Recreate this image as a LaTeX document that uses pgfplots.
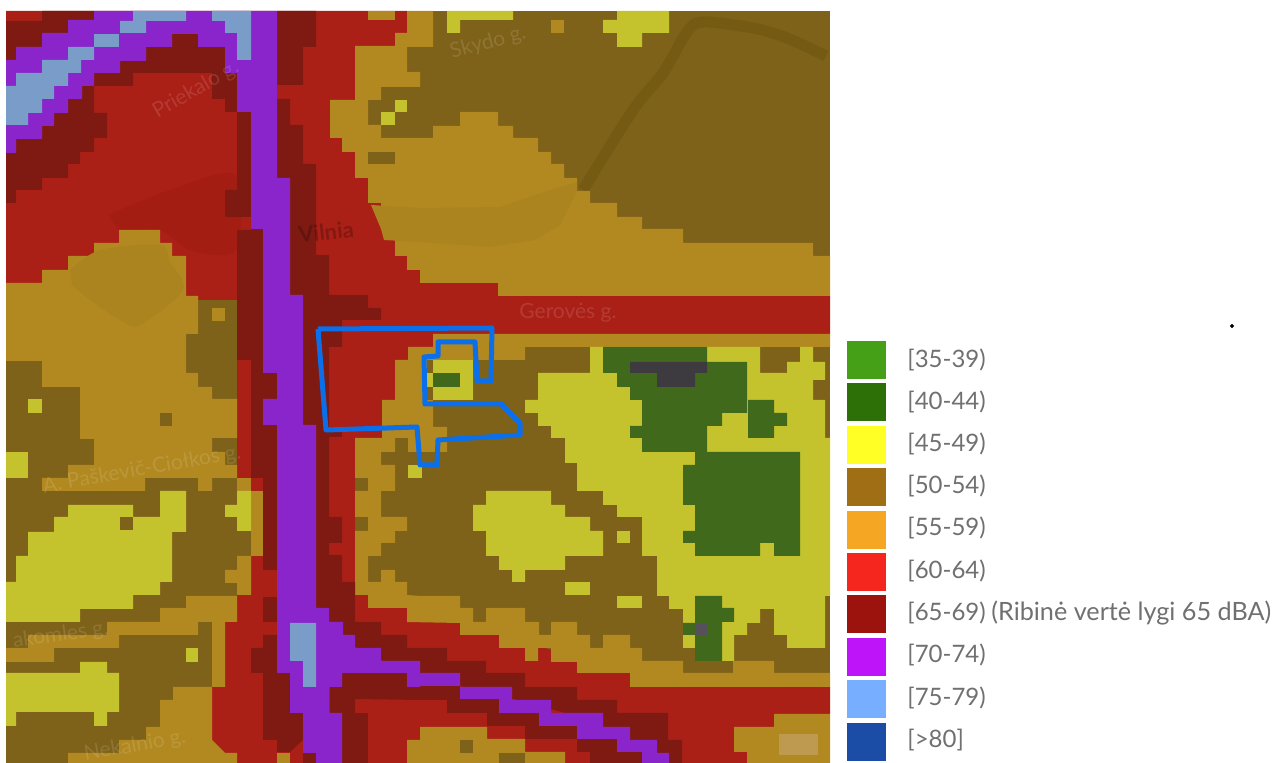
\documentclass[border=0pt]{standalone}
\usepackage{fontspec}
\setmainfont{Lato}
\usepackage{pgfplots}
\pgfplotsset{compat=1.18}

\definecolor{cbrown}{HTML}{7F6219}
\definecolor{criver}{HTML}{755A14}
\definecolor{corange}{HTML}{B28920}
\definecolor{corangeb}{HTML}{AC841F}
\definecolor{cattr}{HTML}{BE9A50}
\definecolor{cyellow}{HTML}{C4C32E}
\definecolor{cred}{HTML}{AA2017}
\definecolor{credb}{HTML}{A41D12}
\definecolor{cdark}{HTML}{7F1A12}
\definecolor{cpurple}{HTML}{8A24CB}
\definecolor{cblue}{HTML}{7A9CC8}
\definecolor{cgreen}{HTML}{41691C}
\definecolor{cgray}{HTML}{3D3A40}
\definecolor{cgrayb}{HTML}{55505A}
\definecolor{cline}{HTML}{0A6FE8}
\definecolor{ctext}{HTML}{707070}
\definecolor{la}{HTML}{45A018}
\definecolor{lb}{HTML}{2E7008}
\definecolor{lc}{HTML}{FFFF26}
\definecolor{ld}{HTML}{A06E14}
\definecolor{le}{HTML}{F5A623}
\definecolor{lf}{HTML}{F5261E}
\definecolor{lg}{HTML}{9C130E}
\definecolor{lh}{HTML}{BE14FA}
\definecolor{li}{HTML}{78AEFF}
\definecolor{lj}{HTML}{1B4CA6}

\tikzset{
  legtext/.style={anchor=west,text=ctext,inner sep=0pt,font=\fontsize{12}{14}\selectfont},
  maplabel/.style={text=white,text opacity=0.12,font=\fontsize{10.5}{12}\selectfont}}

\begin{document}
\begin{tikzpicture}
\begin{axis}[
  scale only axis, width=637pt, height=381.5pt,
  xmin=0, xmax=1274, ymin=0, ymax=763,
  y dir=reverse, hide axis, clip=true]

% page and base layer (50-54)
\addplot[fill=white,draw=none] coordinates {(0,0) (1274,0) (1274,763) (0,763)};
\addplot[fill=cbrown,draw=none] coordinates {(6,11) (830,11) (830,763) (6,763)};
% old river bed in the brown part
\addplot[draw=criver,line width=5.5pt,smooth] coordinates {(583,190) (633,110) (663,73) (687,32) (703,22) (753,28) (787,38) (826,56)};

% 60-64
\addplot[fill=cred,draw=none] coordinates {(6,11) (407,11) (407,33) (395,33) (395,46) (355,46) (355,100) (330,100) (330,138) (342,138) (342,152) (355,152) (355,178) (368,178) (368,203) (381,203) (381,229) (395,229) (395,256) (407,256) (407,270) (420,270) (420,283) (498,283) (498,296) (830,296) (830,334) (433,334) (433,347) (408,347) (408,360) (395,360) (395,400) (382,400) (382,438) (355,438) (355,763) (212,763) (212,687) (225,687) (225,622) (237,622) (237,595) (251,595) (251,478) (237,478) (237,300) (186,300) (6,300)};
\addplot[fill=cred,draw=none] coordinates {(355,595) (368,595) (407,608) (460,623) (630,673) (830,687) (830,714) (774,714) (774,727) (734,727) (734,752) (747,752) (747,763) (355,763)};
\addplot[fill=credb,draw=none,smooth] coordinates {(108,215) (170,190) (236,175) (236,250) (190,250) (160,230) (120,232)};

% 55-59
\addplot[fill=corange,draw=none] coordinates {(368,11) (395,11) (395,20) (368,20)};
\addplot[fill=corange,draw=none] coordinates {(407,11) (433,11) (433,47) (407,47) (407,72) (420,72) (420,87) (381,87) (381,100) (368,100) (368,125) (381,125) (381,138) (433,138) (433,126) (460,126) (460,112) (498,112) (498,126) (513,126) (513,138) (538,138) (538,152) (551,152) (551,164) (564,164) (564,178) (577,178) (577,191) (590,191) (590,203) (617,203) (617,217) (642,217) (642,229) (683,229) (683,243) (813,243) (813,256) (830,256) (830,296) (498,296) (498,283) (420,283) (420,270) (407,270) (407,256) (395,256) (395,229) (381,229) (381,203) (368,203) (368,178) (355,178) (355,152) (342,152) (342,138) (330,138) (330,100) (355,100) (355,46) (395,46) (395,33) (407,33)};
\addplot[fill=corangeb,draw=none] coordinates {(371,205) (420,208) (500,207) (550,190) (577,182) (577,191) (560,225) (535,240) (490,247) (420,242) (384,240) (381,229)};
\addplot[fill=corange,draw=none] coordinates {(6,283) (42,283) (42,270) (68,270) (68,256) (94,256) (94,243) (119,243) (119,230) (160,230) (160,243) (172,243) (172,256) (186,256) (186,296) (198,296) (198,334) (186,334) (186,373) (198,373) (198,387) (212,387) (212,399) (237,399) (237,438) (212,438) (212,452) (225,452) (225,465) (237,465) (237,478) (212,478) (212,491) (198,491) (198,478) (145,478) (145,491) (42,491) (42,478) (68,478) (68,465) (94,465) (94,439) (80,439) (80,387) (42,387) (42,361) (6,361)};
\addplot[fill=corangeb,draw=none,smooth] coordinates {(70,270) (100,250) (160,245) (170,262) (183,290) (140,325) (120,320) (90,300) (72,285)};
\addplot[fill=corange,draw=none] coordinates {(212,308) (225,308) (225,321) (212,321)};
\addplot[fill=corange,draw=none] coordinates {(237,478) (251,478) (251,491) (237,491)};
\addplot[fill=corange,draw=none] coordinates {(251,491) (263,491) (263,556) (251,556)};
\addplot[fill=corange,draw=none] coordinates {(237,556) (251,556) (251,595) (237,595) (237,583) (225,583) (225,570) (237,570)};
\addplot[fill=corange,draw=none] coordinates {(237,596) (186,596) (186,608) (160,608) (160,622) (107,622) (107,635) (28,635) (28,648) (6,648) (6,662) (54,662) (54,648) (119,648) (119,635) (198,635) (198,622) (212,622) (212,687) (225,687) (225,622) (237,622)};
\addplot[fill=corange,draw=none] coordinates {(212,687) (173,687) (173,700) (160,700) (160,727) (146,727) (146,740) (119,740) (119,753) (68,753) (68,763) (237,763) (237,753) (225,753) (212,740)};
\addplot[fill=corange,draw=none] coordinates {(277,753) (290,753) (290,763) (277,763)};
\addplot[fill=corange,draw=none] coordinates {(433,334) (830,334) (830,347) (525,347) (525,360) (473,360) (473,400) (433,400) (433,427) (447,427) (447,452) (422,452) (408,452) (408,438) (395,438) (395,452) (381,452) (381,465) (395,465) (395,491) (381,491) (381,517) (407,517) (407,531) (395,531) (395,543) (381,543) (381,556) (368,556) (368,582) (381,582) (381,570) (395,570) (395,582) (407,582) (407,595) (420,596) (460,596) (460,608) (473,608) (473,622) (486,622) (486,608) (525,608) (525,622) (539,622) (539,635) (551,635) (551,622) (577,622) (577,635) (590,635) (590,648) (603,648) (603,635) (630,635) (630,648) (642,648) (642,661) (683,661) (683,673) (733,673) (733,661) (774,661) (774,673) (830,673) (830,687) (630,687) (630,673) (577,673) (577,662) (551,662) (551,648) (538,648) (538,661) (525,661) (525,648) (499,648) (499,635) (460,635) (460,623) (407,622) (407,608) (368,608) (368,595) (355,595) (355,531) (368,531) (368,517) (355,517) (355,491) (368,491) (368,478) (355,478) (355,438) (382,438) (382,400) (395,400) (395,360) (408,360) (408,347) (433,347)};
\addplot[fill=corange,draw=none] coordinates {(407,740) (420,740) (420,727) (487,727) (487,739) (525,739) (525,752) (565,752) (565,763) (407,763)};
\addplot[fill=corange,draw=none] coordinates {(830,714) (774,714) (774,727) (734,727) (734,752) (747,752) (747,763) (830,763)};
\addplot[fill=corange,draw=none] coordinates {(551,20) (564,20) (564,33) (551,33)};
\addplot[fill=cattr,draw=none] coordinates {(779,734) (818,734) (818,755) (779,755)};

% brown patches back on top
\addplot[fill=cbrown,draw=none] coordinates {(368,152) (395,152) (395,164) (368,164)};
\addplot[fill=cbrown,draw=none] coordinates {(160,413) (172,413) (172,426) (160,426)};
\addplot[fill=cbrown,draw=none] coordinates {(427,360) (433,360) (433,373) (427,373)};
\addplot[fill=cbrown,draw=none] coordinates {(427,387) (433,387) (433,400) (427,400)};
\addplot[fill=cbrown,draw=none] coordinates {(460,740) (473,740) (473,753) (460,753)};
\addplot[fill=cbrown,draw=none] coordinates {(499,753) (525,753) (525,763) (499,763)};

% 45-49
\addplot[fill=cyellow,draw=none] coordinates {(447,11) (513,11) (513,20) (460,20) (460,33) (447,33)};
\addplot[fill=cyellow,draw=none] coordinates {(617,11) (669,11) (669,33) (642,33) (642,47) (617,47) (617,33) (603,33) (603,20) (617,20)};
\addplot[fill=cyellow,draw=none] coordinates {(395,100) (407,100) (407,112) (395,112)};
\addplot[fill=cyellow,draw=none] coordinates {(381,112) (395,112) (395,125) (381,125)};
\addplot[fill=cyellow,draw=none] coordinates {(28,399) (42,399) (42,413) (28,413)};
\addplot[fill=cyellow,draw=none] coordinates {(6,452) (28,452) (28,478) (6,478)};
\addplot[fill=cyellow,draw=none] coordinates {(6,582) (16,582) (16,556) (28,556) (28,532) (54,532) (54,517) (68,517) (68,505) (133,505) (133,517) (160,517) (160,491) (186,491) (186,532) (172,532) (172,582) (160,582) (160,595) (133,595) (133,609) (80,609) (80,622) (6,622)};
\addplot[fill=cbrown,draw=none] coordinates {(120,517) (133,517) (133,530) (120,530)};
\addplot[fill=cyellow,draw=none] coordinates {(225,505) (237,505) (237,491) (251,491) (251,531) (237,531) (237,517) (225,517)};
\addplot[fill=cyellow,draw=none] coordinates {(6,673) (80,673) (80,662) (107,662) (107,673) (119,673) (119,712) (107,712) (107,726) (94,726) (94,712) (16,712) (16,726) (6,726)};
\addplot[fill=cyellow,draw=none] coordinates {(186,648) (198,648) (198,662) (186,662)};
\addplot[fill=cyellow,draw=none] coordinates {(433,360) (473,360) (473,400) (433,400)};
\addplot[fill=cyellow,draw=none] coordinates {(427,373) (433,373) (433,387) (427,387)};
\addplot[fill=cyellow,draw=none] coordinates {(408,465) (422,465) (422,478) (408,478)};
\addplot[fill=cyellow,draw=none] coordinates {(538,373) (590,373) (590,347) (603,347) (707,347) (760,347) (760,373) (787,373) (787,362) (800,362) (800,347) (813,347) (813,362) (825,362) (825,380) (813,380) (813,400) (825,400) (825,438) (830,438) (830,596) (825,596) (825,648) (787,648) (787,635) (774,635) (774,609) (760,609) (760,623) (747,623) (747,635) (734,635) (734,661) (695,661) (695,648) (683,648) (683,609) (669,609) (669,596) (657,596) (657,556) (642,556) (642,517) (617,517) (617,505) (603,505) (603,491) (577,491) (577,463) (565,463) (565,438) (551,438) (551,426) (538,426) (538,413) (525,413) (525,400) (538,400)};
\addplot[fill=cyellow,draw=none] coordinates {(486,491) (551,491) (551,505) (565,505) (565,517) (590,517) (590,531) (603,531) (603,556) (565,556) (565,570) (525,570) (525,582) (512,582) (512,570) (499,570) (499,556) (486,556) (486,531) (473,531) (473,505) (486,505)};
\addplot[fill=cyellow,draw=none] coordinates {(617,531) (630,531) (630,543) (617,543)};
\addplot[fill=cyellow,draw=none] coordinates {(565,582) (590,582) (590,595) (565,595)};
\addplot[fill=cyellow,draw=none] coordinates {(617,596) (642,596) (642,608) (617,608)};

% 40-44
\addplot[fill=cgreen,draw=none] coordinates {(603,347) (707,347) (707,362) (747,362) (747,413) (722,413) (722,426) (707,426) (707,452) (642,452) (642,438) (630,438) (630,426) (642,426) (642,400) (630,400) (630,387) (617,387) (617,373) (603,373)};
\addplot[fill=cgreen,draw=none] coordinates {(683,465) (695,465) (695,452) (800,452) (800,556) (774,556) (774,543) (760,543) (760,556) (695,556) (695,543) (683,543) (683,531) (695,531) (695,505) (683,505)};
\addplot[fill=cgreen,draw=none] coordinates {(748,400) (774,400) (774,413) (787,413) (787,426) (774,426) (774,438) (748,438)};
\addplot[fill=cgreen,draw=none] coordinates {(695,596) (722,596) (722,608) (734,608) (734,622) (722,622) (722,661) (695,661) (695,635) (683,635) (683,623) (695,623)};
\addplot[fill=cgreen,draw=none] coordinates {(433,373) (460,373) (460,387) (433,387)};
\addplot[fill=cgray,draw=none] coordinates {(630,362) (707,362) (707,373) (695,373) (695,387) (657,387) (657,373) (630,373)};
\addplot[fill=cgrayb,draw=none] coordinates {(695,623) (707,623) (707,635) (695,635)};

% 65-69
\addplot[fill=cdark,draw=none] coordinates {(42,11) (94,11) (94,20) (68,20) (68,33) (42,33) (42,47) (16,47) (16,60) (6,60) (6,21) (42,21)};
\addplot[fill=cdark,draw=none] coordinates {(6,153) (16,153) (16,139) (42,139) (42,126) (54,126) (54,113) (68,113) (68,99) (82,99) (82,86) (94,86) (94,113) (107,113) (107,138) (94,138) (94,152) (80,152) (80,164) (68,164) (68,178) (42,178) (42,190) (16,190) (16,203) (6,203)};
\addplot[fill=cdark,draw=none] coordinates {(94,73) (120,73) (120,61) (146,61) (146,47) (172,47) (172,34) (198,34) (198,47) (225,47) (225,73) (237,73) (237,112) (225,112) (225,99) (212,99) (212,73) (133,73) (133,86) (94,86)};
\addplot[fill=cdark,draw=none] coordinates {(237,112) (251,112) (251,229) (263,229) (263,373) (277,373) (277,399) (263,399) (263,425) (277,425) (277,570) (263,570) (263,478) (251,478) (251,360) (237,360) (237,230) (251,230) (251,217) (225,217) (225,190) (237,190)};
\addplot[fill=cdark,draw=none] coordinates {(263,597) (277,597) (277,622) (263,622)};
\addplot[fill=cdark,draw=none] coordinates {(251,648) (263,648) (263,635) (277,635) (277,673) (290,673) (290,713) (303,713) (303,740) (290,752) (277,752) (277,740) (263,740) (263,673) (251,673)};
\addplot[fill=cdark,draw=none] coordinates {(303,753) (316,753) (316,763) (303,763)};
\addplot[fill=cdark,draw=none] coordinates {(277,11) (316,11) (316,47) (303,47) (303,85) (277,85)};
\addplot[fill=cdark,draw=none] coordinates {(277,99) (290,99) (290,125) (303,125) (303,164) (316,164) (316,255) (329,255) (329,295) (368,295) (368,308) (381,308) (381,320) (342,320) (342,347) (329,347) (329,517) (342,517) (342,543) (329,543) (329,555) (342,555) (342,582) (355,582) (355,622) (381,622) (381,635) (407,635) (407,648) (447,648) (447,661) (486,661) (486,673) (525,673) (525,687) (577,687) (577,700) (617,700) (617,713) (668,713) (668,740) (682,740) (682,763) (660,763) (640,745) (590,720) (540,706) (480,690) (420,678) (360,650) (330,630) (300,620) (300,300) (270,300) (270,99)};
\addplot[fill=cdark,draw=none] coordinates {(317,430) (342,430) (342,437) (317,437)};
\addplot[fill=cdark,draw=none] coordinates {(342,673) (407,673) (407,687) (420,687) (420,686) (460,686) (460,699) (499,699) (499,713) (539,713) (539,726) (577,726) (577,739) (617,739) (617,752) (642,752) (642,763) (590,763) (590,752) (577,752) (577,739) (525,739) (525,726) (487,726) (487,713) (447,713) (447,700) (420,700) (355,699) (355,713) (330,713) (330,687) (342,687)};
\addplot[fill=cdark,draw=none] coordinates {(342,713) (368,713) (368,763) (342,763)};

% 70-74
\addplot[fill=cpurple,draw=none] coordinates {(251,11) (277,11) (277,178) (290,178) (290,295) (303,295) (303,425) (316,425) (316,608) (329,608) (329,622) (343,622) (343,635) (355,635) (355,648) (381,648) (381,661) (420,661) (420,673) (460,673) (460,687) (512,687) (512,700) (551,700) (551,713) (603,713) (603,727) (630,727) (630,740) (657,740) (657,753) (669,753) (669,763) (642,763) (642,752) (617,752) (617,739) (577,739) (577,726) (539,726) (539,713) (499,713) (499,699) (460,699) (460,686) (420,686) (420,687) (407,687) (407,673) (342,673) (342,687) (329,687) (329,713) (342,713) (342,763) (316,763) (316,753) (303,753) (303,713) (290,713) (290,673) (277,673) (277,425) (263,425) (263,399) (277,399) (277,373) (263,373) (263,229) (251,229)};
\addplot[fill=cpurple,draw=none] coordinates {(94,11) (251,11) (251,112) (237,112) (237,73) (225,73) (225,47) (198,47) (198,34) (172,34) (172,47) (146,47) (146,61) (120,61) (120,73) (94,73) (94,86) (82,86) (82,99) (68,99) (68,113) (54,113) (54,126) (42,126) (42,139) (16,139) (16,153) (6,153) (6,60) (16,60) (16,47) (42,47) (42,33) (68,33) (68,20) (94,20)};

% 75-79
\addplot[fill=cblue,draw=none] coordinates {(133,11) (186,11) (186,21) (146,21) (146,33) (120,33) (120,21) (133,21)};
\addplot[fill=cblue,draw=none] coordinates {(212,11) (251,11) (251,60) (237,60) (237,33) (225,33) (225,21) (212,21)};
\addplot[fill=cblue,draw=none] coordinates {(94,34) (119,34) (119,47) (94,47)};
\addplot[fill=cblue,draw=none] coordinates {(68,47) (94,47) (94,60) (81,60) (81,73) (68,73) (68,86) (54,86) (54,99) (42,99) (42,113) (28,113) (28,125) (6,125) (6,86) (16,86) (16,73) (42,73) (42,60) (68,60)};
\addplot[fill=cblue,draw=none] coordinates {(290,623) (316,623) (316,687) (303,687) (303,661) (290,661)};

% parcel outline
\addplot[draw=cline,line width=2.5pt,line join=round] coordinates {(318,329) (492,328) (491,381) (477,381) (475,342) (438,342) (438,356) (424,357) (425,404) (501,404) (520,423) (520,435) (438,440) (437,465) (420,465) (417,427) (326,430) (318,329)};

% legend squares
\addplot[fill=la,draw=none] coordinates {(847,341) (886,341) (886,379) (847,379)};
\addplot[fill=lb,draw=none] coordinates {(847,383.4) (886,383.4) (886,421.4) (847,421.4)};
\addplot[fill=lc,draw=none] coordinates {(847,425.8) (886,425.8) (886,463.8) (847,463.8)};
\addplot[fill=ld,draw=none] coordinates {(847,468.2) (886,468.2) (886,506.2) (847,506.2)};
\addplot[fill=le,draw=none] coordinates {(847,510.6) (886,510.6) (886,548.6) (847,548.6)};
\addplot[fill=lf,draw=none] coordinates {(847,553) (886,553) (886,591) (847,591)};
\addplot[fill=lg,draw=none] coordinates {(847,595.4) (886,595.4) (886,633.4) (847,633.4)};
\addplot[fill=lh,draw=none] coordinates {(847,637.8) (886,637.8) (886,675.8) (847,675.8)};
\addplot[fill=li,draw=none] coordinates {(847,680.2) (886,680.2) (886,718.2) (847,718.2)};
\addplot[fill=lj,draw=none] coordinates {(847,722.6) (886,722.6) (886,760.6) (847,760.6)};
\addplot[only marks,mark=*,mark size=0.8pt,black] coordinates {(1232,326)};

% legend text
\node[legtext] at (axis cs:907,360) {[35-39)};
\node[legtext] at (axis cs:907,402) {[40-44)};
\node[legtext] at (axis cs:907,444) {[45-49)};
\node[legtext] at (axis cs:907,486) {[50-54)};
\node[legtext] at (axis cs:907,528) {[55-59)};
\node[legtext] at (axis cs:907,571) {[60-64)};
\node[legtext] at (axis cs:907,613) {[65-69)};
\node[legtext,font=\fontsize{12.6}{14}\selectfont] at (axis cs:991,613) {(Ribinė vertė lygi 65 dBA)};
\node[legtext] at (axis cs:907,655) {[70-74)};
\node[legtext] at (axis cs:907,698) {[75-79)};
\node[legtext] at (axis cs:907,740) {[>80]};

% map labels
\node[maplabel,rotate=30] at (axis cs:196,90) {Priekalo g.};
\node[maplabel,rotate=15] at (axis cs:488,43) {Skydo g.};
\node[text=black,text opacity=0.22,rotate=6,font=\fontsize{11}{12}\bfseries] at (axis cs:326,232) {Vilnia};
\node[maplabel] at (axis cs:568,313) {Gerovės g.};
\node[maplabel,rotate=10] at (axis cs:142,470) {A. Paškevič-Ciołkos g.};
\node[maplabel,rotate=8,anchor=west] at (axis cs:6,643) {akomles g.};
\node[maplabel,rotate=10] at (axis cs:135,746) {Nekalnio g.};
\end{axis}
\end{tikzpicture}
\end{document}
